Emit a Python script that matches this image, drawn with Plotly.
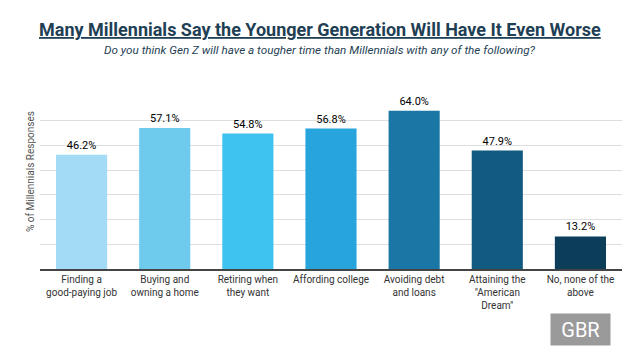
import plotly.graph_objects as go

categories = ["Finding a<br>good-paying job", "Buying and<br>owning a home", "Retiring when<br>they want",
              "Affording college", "Avoiding debt<br>and loans", "Attaining the<br>\"American<br>Dream\"",
              "No, none of the<br>above"]
values = [46.2, 57.1, 54.8, 56.8, 64.0, 47.9, 13.2]
colors = ["#a3daf5", "#6ecbee", "#3ec3f0", "#27a4dc", "#1a76a4", "#135a80", "#0c3e5a"]
labels = [f"{v:.1f}%" for v in values]

L, R, T, B = 40, 18, 96, 91
PW, PH = 640 - L - R, 360 - T - B

def px(x):
    return (x - L) / PW

def py(y):
    return (360 - B - y) / PH

fig = go.Figure(go.Bar(
    x=categories, y=values, marker_color=colors, marker_line_width=0,
    text=labels, textposition="outside", cliponaxis=False,
    textfont=dict(family="Roboto", size=11, color="#000000"),
))

fig.update_layout(
    width=640, height=360, paper_bgcolor="white", plot_bgcolor="white",
    margin=dict(l=L, r=R, t=T, b=B),
    bargap=0.385, showlegend=False,
    font=dict(family="Roboto"),
    xaxis=dict(showline=True, linecolor="#444444", linewidth=2, ticks="",
               tickfont=dict(family="Roboto", size=10, color="#333333")),
    yaxis=dict(range=[0, 70], dtick=10, showticklabels=False, showgrid=True,
               gridcolor="#dedede", gridwidth=1, zeroline=False),
    annotations=[
        dict(text="Many Millennials Say the Younger Generation Will Have It Even Worse",
             x=px(320), y=py(29), xref="paper", yref="paper", showarrow=False,
             xanchor="center", yanchor="middle",
             font=dict(family="Roboto", size=18,
                       color="#1f3f55", weight="bold", lineposition="under")),
        dict(text="<i>Do you think Gen Z will have a tougher time than Millennials with any of the following?</i>",
             x=px(320), y=py(50), xref="paper", yref="paper", showarrow=False,
             xanchor="center", yanchor="middle",
             font=dict(family="Roboto", size=11.7, color="#1f3f55")),
        dict(text="% of Millennials Responses", textangle=-90,
             x=px(30), y=py(172), xref="paper", yref="paper", showarrow=False,
             xanchor="center", yanchor="middle",
             font=dict(family="Roboto", size=10, color="#555555")),
        dict(text="GBR", x=px(580.5), y=py(329.5), xref="paper", yref="paper", showarrow=False,
             xanchor="center", yanchor="middle",
             bgcolor="#9a9a9a", width=57, height=29,
             font=dict(family="Roboto", size=20, color="white")),
    ],
)

fig.write_html("out.html", config={"displayModeBar": False},
               post_script="document.body.style.margin='0';")
